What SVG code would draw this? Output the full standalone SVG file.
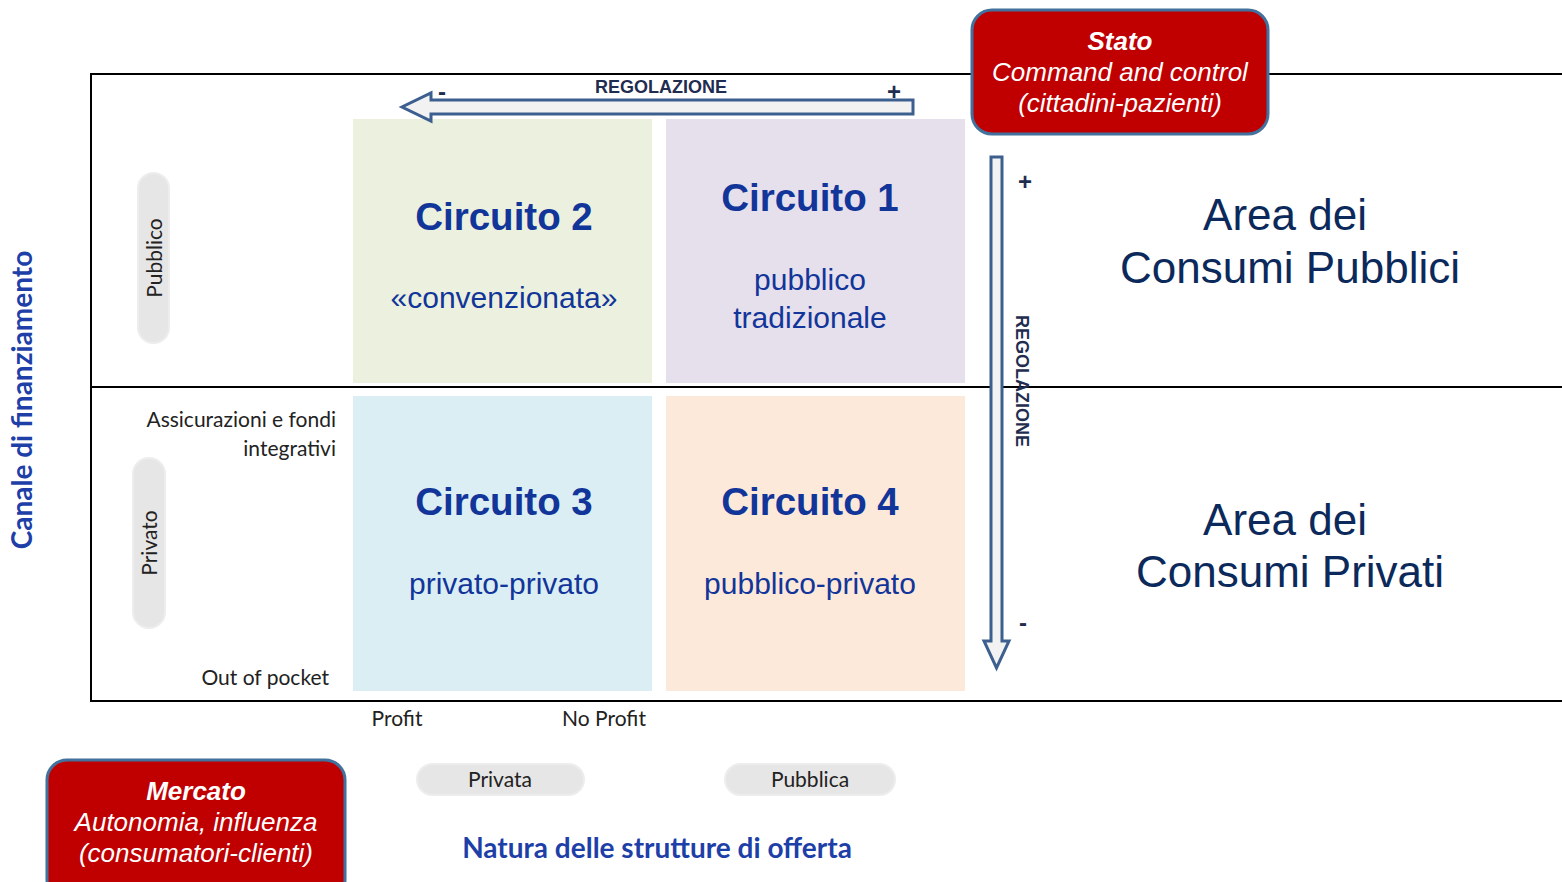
<svg xmlns="http://www.w3.org/2000/svg" width="1562" height="882" viewBox="0 0 1562 882">
<style>
.red{fill:#C00000;stroke:#41719C;stroke-width:3}
.rt{font-family:"Liberation Sans",Arial,sans-serif;fill:#fff;font-size:26px;font-style:italic;text-anchor:middle}
.ct{font-family:"Liberation Sans",Arial,sans-serif;fill:#12359A;text-anchor:middle}
.big{font-size:38.5px;font-weight:bold}
.sub{font-size:30px}
.area{font-family:"Liberation Sans",Arial,sans-serif;fill:#0B2A5B;font-size:44px;text-anchor:middle}
.reg{font-family:"Liberation Sans",Arial,sans-serif;fill:#1F2D50;font-weight:bold;font-size:18px;text-anchor:middle}
.sg{font-family:"Liberation Sans",Arial,sans-serif;fill:#1F2D50;font-weight:bold;font-size:24px;text-anchor:middle}
.arr{fill:#F2F2F2;stroke:#3D5F8F;stroke-width:3;stroke-linejoin:miter}
.pill{fill:#E7E6E6;stroke:#EDEDED;stroke-width:2}
.lb{font-family:Lato,"Noto Sans",sans-serif;fill:#222;font-size:21px}
.blue{font-family:Lato,"Noto Sans",sans-serif;fill:#1E3FA8;font-weight:bold}
</style>
<rect width="1562" height="882" fill="#fff"/>
<g id="frame" fill="none" stroke="#000" stroke-width="2">
<polyline points="1562,74 91,74 91,701 1562,701"/>
<line x1="91" y1="387" x2="1562" y2="387"/>
</g>
<g id="circuito2"><rect x="353" y="119" width="299" height="264" fill="#EBF1DE"/>
<text class="ct big" x="504" y="230">Circuito 2</text>
<text class="ct sub" x="504" y="308">«convenzionata»</text></g>
<g id="circuito1"><rect x="666" y="119" width="299" height="264" fill="#E6E0EC"/>
<text class="ct big" x="810" y="211">Circuito 1</text>
<text class="ct sub" x="810" y="290">pubblico</text>
<text class="ct sub" x="810" y="328">tradizionale</text></g>
<g id="circuito3"><rect x="353" y="396" width="299" height="295" fill="#DBEEF4"/>
<text class="ct big" x="504" y="515">Circuito 3</text>
<text class="ct sub" x="504" y="594">privato-privato</text></g>
<g id="circuito4"><rect x="666" y="396" width="299" height="295" fill="#FDE9D9"/>
<text class="ct big" x="810" y="515">Circuito 4</text>
<text class="ct sub" x="810" y="594">pubblico-privato</text></g>
<g id="connectors">
<polygon class="arr" points="913,100 431,100 431,93 402,107 431,121 431,114 913,114"/>
<polygon class="arr" points="991,157 1002,157 1002,641 1009,641 996.5,668 984,641 991,641"/>
</g>
<g id="reg-h">
<text class="reg" x="661" y="93">REGOLAZIONE</text>
<text class="sg" x="442" y="100">-</text>
<text class="sg" x="894" y="100">+</text>
</g>
<g id="reg-v">
<text class="sg" x="1025" y="190">+</text>
<text class="sg" x="1023" y="631">-</text>
<text class="reg" transform="translate(1016,381) rotate(90)" x="0" y="0">REGOLAZIONE</text>
</g>
<g id="stato">
<rect class="red" x="972" y="10" width="296" height="124" rx="20"/>
<text class="rt" x="1120" y="50" font-weight="bold">Stato</text>
<text class="rt" x="1120" y="81">Command and control</text>
<text class="rt" x="1120" y="112">(cittadini-pazienti)</text>
</g>
<g id="mercato">
<rect class="red" x="47" y="760" width="298" height="140" rx="20"/>
<text class="rt" x="196" y="800" font-weight="bold">Mercato</text>
<text class="rt" x="196" y="831">Autonomia, influenza</text>
<text class="rt" x="196" y="862">(consumatori-clienti)</text>
</g>
<g id="area-pubblici">
<text class="area" x="1285" y="230">Area dei</text>
<text class="area" x="1290" y="283">Consumi Pubblici</text>
</g>
<g id="area-privati">
<text class="area" x="1285" y="535">Area dei</text>
<text class="area" x="1290" y="587">Consumi Privati</text>
</g>
<g id="canale">
<text class="blue" font-size="28" text-anchor="middle" transform="translate(32,400) rotate(-90)">Canale di finanziamento</text>
</g>
<g id="pubblico-pill">
<rect class="pill" x="138" y="173" width="31" height="170" rx="15.5"/>
<text class="lb" text-anchor="middle" transform="translate(162,258) rotate(-90)">Pubblico</text>
</g>
<g id="privato-pill">
<rect class="pill" x="133" y="458" width="32" height="170" rx="16"/>
<text class="lb" text-anchor="middle" transform="translate(157,543) rotate(-90)">Privato</text>
</g>
<g id="assicurazioni">
<text class="lb" text-anchor="end" x="336" y="427">Assicurazioni e fondi</text>
<text class="lb" text-anchor="end" x="336" y="456">integrativi</text>
</g>
<g id="oop"><text class="lb" text-anchor="end" x="329" y="685">Out of pocket</text></g>
<g id="profit"><text class="lb" text-anchor="middle" x="397" y="726">Profit</text></g>
<g id="noprofit"><text class="lb" text-anchor="middle" x="604" y="726">No Profit</text></g>
<g id="privata-pill">
<rect class="pill" x="417" y="764" width="167" height="31" rx="15.5"/>
<text class="lb" text-anchor="middle" x="500" y="787">Privata</text>
</g>
<g id="pubblica-pill">
<rect class="pill" x="725" y="764" width="170" height="31" rx="15.5"/>
<text class="lb" text-anchor="middle" x="810" y="787">Pubblica</text>
</g>
<g id="natura">
<text class="blue" font-size="28" text-anchor="middle" x="657" y="858">Natura delle strutture di offerta</text>
</g>
</svg>
